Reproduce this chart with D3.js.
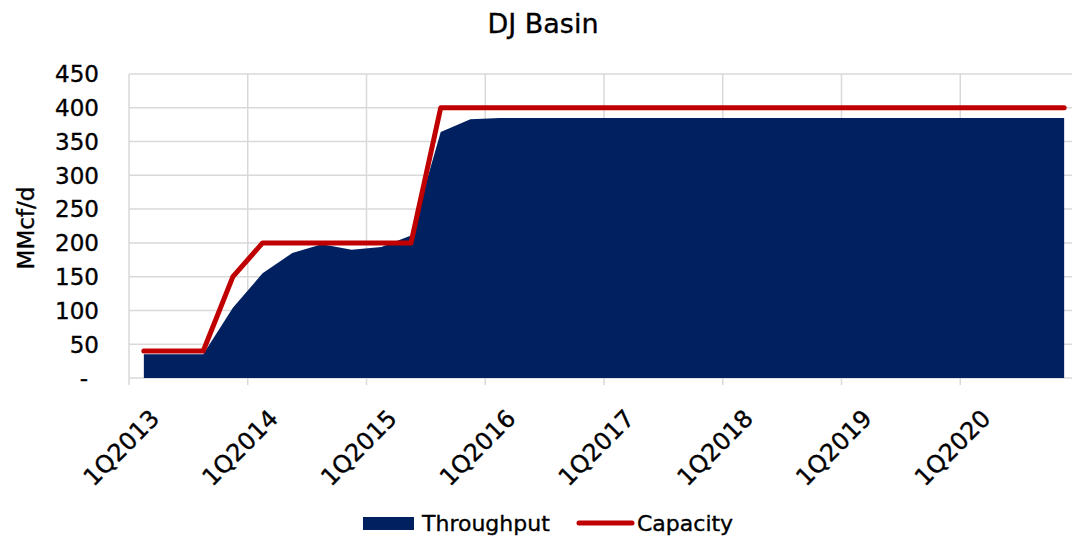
<!DOCTYPE html>
<html>
<head>
<meta charset="utf-8">
<script src="https://cdn.jsdelivr.net/npm/d3@7"></script>
<style>
  html, body { margin: 0; padding: 0; background: #fff; }
  svg { display: block; font-family: "DejaVu Sans", "Liberation Sans", sans-serif; }
  .lbl { fill: #000; stroke: #000; stroke-width: 0.35px; }
</style>
</head>
<body>
<svg id="chart" width="1072" height="537"></svg>
<script>
// Quarterly categories, 1Q2013 .. 4Q2020
const quarters = [
  "1Q2013","2Q2013","3Q2013","4Q2013",
  "1Q2014","2Q2014","3Q2014","4Q2014",
  "1Q2015","2Q2015","3Q2015","4Q2015",
  "1Q2016","2Q2016","3Q2016","4Q2016",
  "1Q2017","2Q2017","3Q2017","4Q2017",
  "1Q2018","2Q2018","3Q2018","4Q2018",
  "1Q2019","2Q2019","3Q2019","4Q2019",
  "1Q2020","2Q2020","3Q2020","4Q2020"
];

// Throughput (MMcf/d)
const throughput = [
  35, 35, 35, 104,
  155, 185, 198, 190,
  194, 211, 364, 383,
  385, 385, 385, 385,
  385, 385, 385, 385,
  385, 385, 385, 385,
  385, 385, 385, 385,
  385, 385, 385, 385
];

// Capacity (MMcf/d)
const capacity = [
  40, 40, 40, 150,
  200, 200, 200, 200,
  200, 200, 400, 400,
  400, 400, 400, 400,
  400, 400, 400, 400,
  400, 400, 400, 400,
  400, 400, 400, 400,
  400, 400, 400, 400
];

const yTicks = [0, 50, 100, 150, 200, 250, 300, 350, 400, 450];
const xTickLabels = ["1Q2013","1Q2014","1Q2015","1Q2016","1Q2017","1Q2018","1Q2019","1Q2020"];

const svg = d3.select("#chart");
const plot = { left: 129, right: 1079, top: 74, bottom: 378 };

const x = d3.scaleBand().domain(quarters).range([plot.left, plot.right]).padding(0);
const cx = q => x(q) + x.bandwidth() / 2;
const y = d3.scaleLinear().domain([0, 450]).range([plot.bottom, plot.top]);

const gridColor = "#d9d9d9";

// Horizontal gridlines
svg.append("g")
  .selectAll("line")
  .data(yTicks)
  .join("line")
  .attr("x1", plot.left).attr("x2", plot.right)
  .attr("y1", d => y(d)).attr("y2", d => y(d))
  .attr("stroke", gridColor).attr("stroke-width", 1.5);

// Vertical gridlines at each year boundary, extending into tick marks
const yearEdges = xTickLabels.map(q => x(q)).concat([plot.right]);
svg.append("g")
  .selectAll("line")
  .data(yearEdges)
  .join("line")
  .attr("x1", d => d).attr("x2", d => d)
  .attr("y1", plot.top).attr("y2", plot.bottom + 7)
  .attr("stroke", gridColor).attr("stroke-width", 1.5);

// Throughput area
const area = d3.area()
  .x((d, i) => cx(quarters[i]))
  .y0(y(0))
  .y1(d => y(d));
svg.append("path")
  .datum(throughput)
  .attr("d", area)
  .attr("fill", "#002060");

// Capacity line
const line = d3.line()
  .x((d, i) => cx(quarters[i]))
  .y(d => y(d));
svg.append("path")
  .datum(capacity)
  .attr("d", line)
  .attr("fill", "none")
  .attr("stroke", "#c00000")
  .attr("stroke-width", 5)
  .attr("stroke-linejoin", "round")
  .attr("stroke-linecap", "round");

// Y axis labels (accounting style: zero shown as a dash, set in from the edge)
svg.append("g")
  .selectAll("text")
  .data(yTicks)
  .join("text")
  .attr("class", "lbl")
  .attr("x", d => d === 0 ? 88 : 99)
  .attr("y", d => y(d))
  .attr("dy", "0.36em")
  .attr("text-anchor", "end")
  .attr("font-size", 23)
  .text(d => d === 0 ? "-" : d3.format(",")(d));

// Y axis title
svg.append("text")
  .attr("class", "lbl")
  .attr("transform", "translate(34,228) rotate(-90)")
  .attr("text-anchor", "middle")
  .attr("font-size", 23)
  .text("MMcf/d");

// X axis labels (rotated)
svg.append("g")
  .selectAll("text")
  .data(xTickLabels)
  .join("text")
  .attr("class", "lbl")
  .attr("transform", d => `translate(${cx(d) + 17},${plot.bottom + 42}) rotate(-45)`)
  .attr("text-anchor", "end")
  .attr("font-size", 24)
  .text(d => d);

// Title
svg.append("text")
  .attr("class", "lbl")
  .attr("x", 543)
  .attr("y", 33)
  .attr("text-anchor", "middle")
  .attr("font-size", 27)
  .text("DJ Basin");

// Legend
const legend = svg.append("g");
legend.append("rect")
  .attr("x", 363).attr("y", 517).attr("width", 51).attr("height", 13)
  .attr("fill", "#002060");
legend.append("text")
  .attr("class", "lbl")
  .attr("x", 422).attr("y", 531)
  .attr("font-size", 22)
  .text("Throughput");
legend.append("line")
  .attr("x1", 579).attr("x2", 632).attr("y1", 523).attr("y2", 523)
  .attr("stroke", "#c00000").attr("stroke-width", 5).attr("stroke-linecap", "round");
legend.append("text")
  .attr("class", "lbl")
  .attr("x", 637).attr("y", 531)
  .attr("font-size", 22)
  .text("Capacity");
</script>
</body>
</html>
